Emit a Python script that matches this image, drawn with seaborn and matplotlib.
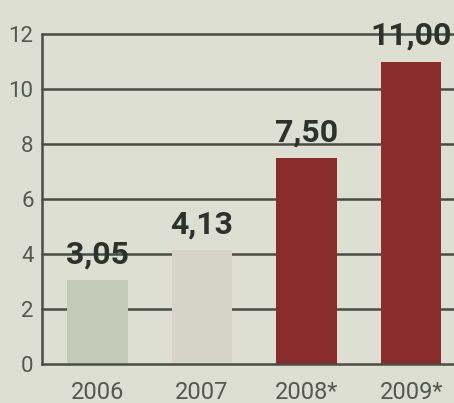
import numpy as np
import pandas as pd
import matplotlib
matplotlib.use('Agg')
import matplotlib.pyplot as plt
import seaborn as sns

# chart data
years = ['2006', '2007', '2008*', '2009*']
values = [3.05, 4.13, 7.50, 11.00]
value_labels = ['3,05', '4,13', '7,50', '11,00']
bar_colors = ['#c4cab7', '#d6d4c8', '#8a2c2c', '#8a2c2c']
y_ticks = [0, 2, 4, 6, 8, 10, 12]

df = pd.DataFrame({'year': years, 'value': values})

sns.set_style('white')
plt.rcParams['font.family'] = ['Roboto', 'DejaVu Sans']

bg = '#dddfd3'
ink = '#4a4d45'
fig = plt.figure(figsize=(4.54, 4.03), dpi=100, facecolor=bg)
ax = fig.add_axes([0.0925, 0.0968, 0.9075, 0.8188])
ax.set_facecolor(bg)

# grid lines behind the bars
for t in y_ticks[1:]:
    ax.axhline(t, color=ink, lw=1.8, zorder=0, clip_on=False)

sns.barplot(data=df, x='year', y='value', hue='year', palette=bar_colors,
            width=0.58, saturation=1, legend=False, ax=ax, zorder=2,
            edgecolor='none', linewidth=0)

for i, (v, lab) in enumerate(zip(values, value_labels)):
    ax.text(i, v + 0.6, lab, ha='center', va='baseline', fontsize=23,
            fontweight='bold', color='#2f312c', zorder=3)

ax.set_ylim(0, 12)
ax.set_xlim(-0.53, 3.41)
ax.set_yticks(y_ticks)
ax.set_yticklabels([str(t) for t in y_ticks], fontsize=16, color='#55584f')
ax.tick_params(axis='y', length=0, pad=6)
ax.tick_params(axis='x', length=0, pad=12, labelsize=17, labelcolor='#55584f')
ax.set_xlabel('')
ax.set_ylabel('')

# Dejunkify
for side in ['top', 'right']:
    ax.spines[side].set_visible(False)
for side in ['left', 'bottom']:
    ax.spines[side].set_color(ink)
    ax.spines[side].set_linewidth(1.8)

fig.savefig('out.png', dpi=100, facecolor=bg)
